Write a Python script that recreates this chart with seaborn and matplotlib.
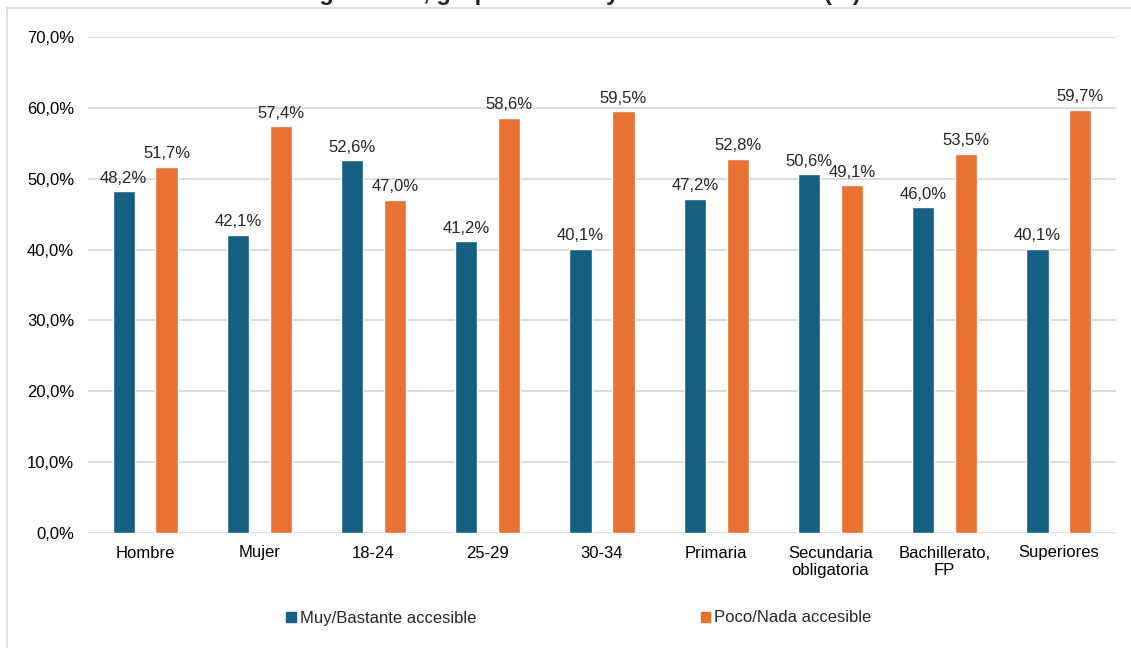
import pandas as pd
import numpy as np
import matplotlib.pyplot as plt
import matplotlib.ticker as ticker
from matplotlib.patches import Rectangle
import seaborn as sns

categories = ["Hombre", "Mujer", "18-24", "25-29", "30-34", "Primaria",
              "Secundaria\nobligatoria", "Bachillerato,\nFP", "Superiores"]
muy_bastante = [48.2, 42.1, 52.6, 41.2, 40.1, 47.2, 50.6, 46.0, 40.1]
poco_nada = [51.7, 57.4, 47.0, 58.6, 59.5, 52.8, 49.1, 53.5, 59.7]
series = ["Muy/Bastante accesible", "Poco/Nada accesible"]
colors = ["#156082", "#E97132"]
title = "según sexo, grupo de edad y nivel de estudios (%)"

df = pd.DataFrame({
    "cat": categories * 2,
    "serie": [series[0]] * len(categories) + [series[1]] * len(categories),
    "valor": muy_bastante + poco_nada,
})

sns.set_style("white")
plt.rcParams["font.family"] = ["Liberation Sans", "DejaVu Sans"]

fig = plt.figure(figsize=(11.31, 6.48), dpi=100)
ax = fig.add_axes([88 / 1131, 1 - 533 / 648, (1116 - 88) / 1131, (533 - 37) / 648])

sns.barplot(data=df, x="cat", y="valor", hue="serie", palette=colors,
            width=0.75, gap=0.48, ax=ax, legend=False, saturation=1)

ax.set_ylim(0, 70)
ax.set_xlim(-0.5, len(categories) - 0.5)
ax.yaxis.set_major_locator(ticker.MultipleLocator(10))
ax.yaxis.set_major_formatter(ticker.FuncFormatter(lambda v, p: f"{v:.1f}%".replace(".", ",")))
ax.grid(axis="y", color="#D9D9D9", linewidth=1.3)
ax.set_axisbelow(True)
for s in ["top", "right", "left", "bottom"]:
    ax.spines[s].set_visible(False)
ax.tick_params(axis="both", length=0, labelsize=12, colors="#000000")
ax.tick_params(axis="y", pad=10)
ax.tick_params(axis="x", pad=9)
ax.set_xlabel("")
ax.set_ylabel("")

for cont in ax.containers:
    ax.bar_label(cont, labels=[f"{b.get_height():.1f}%".replace(".", ",") for b in cont],
                 padding=4, fontsize=12)

# legend
handles = [Rectangle((0, 0), 1, 1, color=c) for c in colors]
fig.legend(handles, series, loc="center", bbox_to_anchor=(0.512, 1 - 618 / 648),
           ncol=2, frameon=False, fontsize=12, handlelength=0.55, handleheight=0.55,
           handletextpad=0.25, columnspacing=13.5)

# clipped title and chart border
fig.text(0.51, 1.0, title, ha="center", va="baseline", fontsize=17, fontweight="bold")
fig.patches.append(Rectangle((7 / 1131, -0.1), 1.2, 1 - 8 / 648 + 0.1, transform=fig.transFigure,
                             fill=False, edgecolor="#D9D9D9", linewidth=1.2))

fig.savefig("out.png", dpi=100)
